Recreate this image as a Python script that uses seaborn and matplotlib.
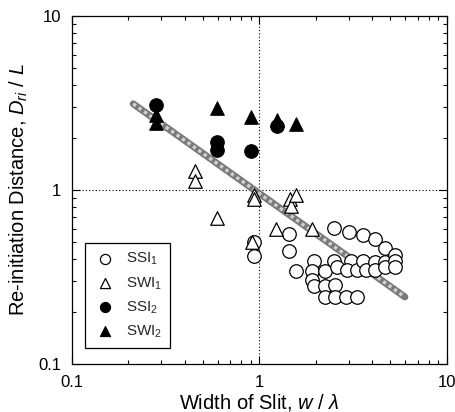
import matplotlib
matplotlib.use("Agg")
from matplotlib import pyplot as plt
from matplotlib.ticker import LogLocator, FixedLocator, FixedFormatter, NullFormatter
import seaborn as sns
import pandas as pd

# ---------------- data ----------------
# SSI1 (open circles)
ssi1_x = [0.935, 0.935, 1.44, 1.44, 1.57, 2.50, 1.95, 1.90, 1.90, 1.95,
          2.24, 2.24, 2.24, 2.53, 2.53, 2.50, 2.58, 2.89, 3.30, 3.01,
          3.08, 2.94, 3.30, 3.55, 3.55, 3.70, 4.13, 4.13, 4.13, 4.67,
          4.67, 4.67, 5.28, 5.28, 5.28]
ssi1_y = [0.501, 0.420, 0.562, 0.449, 0.341, 0.606, 0.390, 0.341, 0.303, 0.280,
          0.341, 0.280, 0.243, 0.283, 0.243, 0.390, 0.362, 0.243, 0.243, 0.572,
          0.390, 0.346, 0.346, 0.548, 0.390, 0.346, 0.524, 0.385, 0.346, 0.465,
          0.385, 0.362, 0.426, 0.390, 0.362]

# SWI1 (open triangles)
swi1_x = [0.453, 0.453, 0.596, 0.935, 0.935, 0.909, 1.225, 1.45, 1.47, 1.57, 1.90]
swi1_y = [1.28, 1.12, 0.69, 0.942, 0.890, 0.501, 0.598, 0.890, 0.807, 0.942, 0.598]

# SSI2 (filled circles)
ssi2_x = [0.279, 0.596, 0.596, 0.898, 1.235]
ssi2_y = [3.10, 1.88, 1.69, 1.67, 2.33]

# SWI2 (filled triangles)
swi2_x = [0.279, 0.279, 0.596, 0.898, 1.235, 1.566]
swi2_y = [2.70, 2.43, 2.97, 2.63, 2.52, 2.40]

# gray correlation line
line_x = [0.212, 5.97]
line_y = [3.13, 0.243]

sns.set_style("ticks")
plt.rcParams['font.family'] = ['Liberation Sans', 'DejaVu Sans']
plt.rcParams['mathtext.fontset'] = 'custom'
plt.rcParams['mathtext.rm'] = 'Liberation Sans'
plt.rcParams['mathtext.it'] = 'Liberation Sans:italic'
plt.rcParams['mathtext.bf'] = 'Liberation Sans:bold'

fig, ax = plt.subplots(figsize=(4.56, 4.12), dpi=100)
fig.subplots_adjust(left=0.158, right=0.980, bottom=0.1165, top=0.961)

ax.set_xscale("log")
ax.set_yscale("log")

# reference lines at 1
ax.axvline(1, color="black", linestyle=(0, (1, 2)), linewidth=0.8, zorder=1)
ax.axhline(1, color="black", linestyle=(0, (1, 2)), linewidth=0.8, zorder=1)

# textured gray line
sns.lineplot(x=line_x, y=line_y, ax=ax, color="#7a7a7a", linewidth=5, zorder=2)
sns.lineplot(x=line_x, y=line_y, ax=ax, color="#d2d2d2", linewidth=2.4,
             linestyle=(0, (1, 1)), zorder=2)

ms = 95
sns.scatterplot(x=ssi1_x, y=ssi1_y, ax=ax, marker="o", s=ms, facecolor="white",
                edgecolor="black", linewidth=0.9, label="SSI$_1$", zorder=3)
sns.scatterplot(x=swi1_x, y=swi1_y, ax=ax, marker="^", s=ms, facecolor="white",
                edgecolor="black", linewidth=0.9, label="SWI$_1$", zorder=3)
sns.scatterplot(x=ssi2_x, y=ssi2_y, ax=ax, marker="o", s=ms, color="black",
                edgecolor="black", label="SSI$_2$", zorder=4)
sns.scatterplot(x=swi2_x, y=swi2_y, ax=ax, marker="^", s=ms, color="black",
                edgecolor="black", label="SWI$_2$", zorder=4)

ax.set_xlim(0.1, 10)
ax.set_ylim(0.1, 10)

ax.xaxis.set_major_locator(FixedLocator([0.1, 1, 10]))
ax.xaxis.set_major_formatter(FixedFormatter(["0.1", "1", "10"]))
ax.yaxis.set_major_locator(FixedLocator([0.1, 1, 10]))
ax.yaxis.set_major_formatter(FixedFormatter(["0.1", "1", "10"]))
ax.xaxis.set_minor_locator(LogLocator(base=10, subs=range(2, 10)))
ax.yaxis.set_minor_locator(LogLocator(base=10, subs=range(2, 10)))
ax.xaxis.set_minor_formatter(NullFormatter())
ax.yaxis.set_minor_formatter(NullFormatter())

ax.tick_params(which="both", direction="in", top=True, right=True,
               color="black", width=0.8, labelsize=12, labelcolor="black")
ax.tick_params(which="major", length=6, pad=8)
ax.tick_params(which="minor", length=3)
for sp in ax.spines.values():
    sp.set_color("black")
    sp.set_linewidth(0.9)

ax.set_xlabel(r"Width of Slit, $w$ / $\lambda$", fontsize=14.5, color="black", labelpad=1)
ax.set_ylabel(r"Re-initiation Distance, $D_{ri}$ / $L$", fontsize=14.5, color="black",
              labelpad=6)

leg = ax.legend(loc="lower left", bbox_to_anchor=(0.035, 0.046), fancybox=False,
                edgecolor="black", framealpha=1, fontsize=11, markerscale=0.75,
                handletextpad=0.6, labelspacing=0.5, borderpad=0.55,
                handlelength=1.5, borderaxespad=0)
leg.get_frame().set_linewidth(0.9)

plt.savefig("out.png", dpi=100)
